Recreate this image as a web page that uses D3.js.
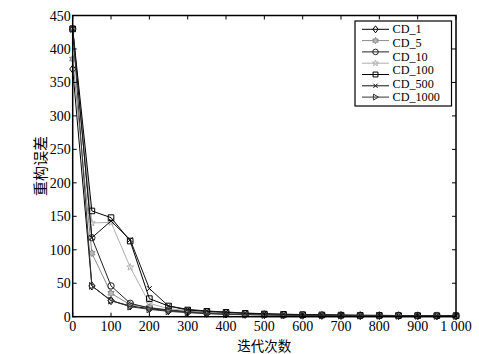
<!DOCTYPE html>
<html><head><meta charset="utf-8">
<script src="https://cdn.jsdelivr.net/npm/d3@7"></script>
<style>
html,body{margin:0;padding:0;background:#fff;}
svg{display:block;}
</style></head>
<body>
<svg id="chart" width="479" height="354"></svg>
<script>
const xValues = [0,50,100,150,200,250,300,350,400,450,500,550,600,650,700,750,800,850,900,950,1000];
const cd1Diamond   = [370,46,24,16,12,9,7,5,4,3.5,3,2.5,2.2,2,1.8,1.6,1.5,1.4,1.3,1.2,1.1];
const cd5Hexagram  = [385,95,35,18,14,10,8,6,5,4,3.5,3,2.6,2.3,2,1.8,1.7,1.6,1.5,1.4,1.3];
const cd10Circle   = [430,118,46,20,13,10,8,6.5,5,4,3.5,3,2.6,2.3,2,1.8,1.7,1.6,1.5,1.4,1.3];
const starSeries   = [430,140,141,74,20,12,9,7,5.5,4.5,3.8,3.2,2.8,2.4,2.1,1.9,1.8,1.6,1.5,1.4,1.3];
const squareSeries = [430,158,148,113,27,16,10,8,6.5,5,4,3.5,3,2.6,2.3,2,1.9,1.7,1.6,1.5,1.4];
const crossSeries  = [430,118,143,115,42,16,11,8.5,7,5.5,4.5,3.8,3.2,2.8,2.4,2.1,2,1.8,1.6,1.5,1.4];
const triSeries    = [430,46,24,15,11,8,6,4.5,3.5,3,2.5,2.2,2,1.8,1.6,1.5,1.4,1.3,1.2,1.1,1];
const legendLabels = ["CD_1","CD_5","CD_10","CD_100","CD_500","CD_1000"];
const xTicks = [0,100,200,300,400,500,600,700,800,900,1000];
const xTickLabels = ["0","100","200","300","400","500","600","700","800","900","1 000"];
const yTicks = [0,50,100,150,200,250,300,350,400,450];
const xTitle = "迭代次数";
const yTitle = "重构误差";

const series = [
  {values: cd1Diamond, marker: "diamond", color: "#000"},
  {values: cd5Hexagram, marker: "hexagram", color: "#8a8a8a"},
  {values: cd10Circle, marker: "circle", color: "#222"},
  {values: starSeries, marker: "star", color: "#b0b0b0"},
  {values: squareSeries, marker: "square", color: "#000"},
  {values: crossSeries, marker: "x", color: "#111"},
  {values: triSeries, marker: "triangle", color: "#333"}
];

const svg = d3.select("#chart");
const L = 72.7, R = 456, T = 15.5, B = 316.7;
const x = d3.scaleLinear().domain([0,1000]).range([L,R]);
const y = d3.scaleLinear().domain([0,450]).range([B,T]);
const serif = "'Liberation Serif','Times New Roman',serif";
const cjk = "'Noto Sans CJK SC','Noto Sans CJK JP',sans-serif";

function markerPath(type, s){
  switch(type){
    case "diamond": return `M0,${-s}L${s*0.75},0L0,${s}L${-s*0.75},0Z`;
    case "circle": { const r=s*0.8; return `M${r},0A${r},${r} 0 1,1 ${-r},0A${r},${r} 0 1,1 ${r},0Z`; }
    case "square": { const h=s*0.7; return `M${-h},${-h}H${h}V${h}H${-h}Z`; }
    case "x": { const h=s*0.6; return `M${-h},${-h}L${h},${h}M${-h},${h}L${h},${-h}`; }
    case "triangle": { const h=s*0.85; return `M${-h*0.7},${-h}L${h},0L${-h*0.7},${h}Z`; }
    case "star": case "hexagram": {
      const n = type==="star"?5:6, ro=s*0.9, ri=type==="star"?s*0.38:s*0.5;
      let p=""; for(let i=0;i<2*n;i++){const r=i%2?ri:ro;const a=-Math.PI/2+i*Math.PI/n;p+=(i?"L":"M")+(r*Math.cos(a)).toFixed(2)+","+(r*Math.sin(a)).toFixed(2);} return p+"Z";
    }
  }
}

// series
const line = d3.line().x((d,i)=>x(xValues[i])).y(d=>y(d));
const plot = svg.append("g");
series.forEach(s=>{
  plot.append("path").attr("d", line(s.values)).attr("fill","none")
    .attr("stroke", s.color).attr("stroke-width", 1);
  plot.selectAll(null).data(s.values).enter().append("path")
    .attr("transform",(d,i)=>`translate(${x(xValues[i])},${y(d)})`)
    .attr("d", markerPath(s.marker, 4))
    .attr("fill", s.marker==="hexagram" ? "#bbb" : "none")
    .attr("stroke", s.color).attr("stroke-width", 1);
});

// frame
svg.append("rect").attr("x",L).attr("y",T).attr("width",R-L).attr("height",B-T)
  .attr("fill","none").attr("stroke","#000").attr("stroke-width",1.5);

// ticks
const tl = 4;
const axisG = svg.append("g").attr("stroke","#000").attr("stroke-width",1);
xTicks.forEach(v=>{
  axisG.append("line").attr("x1",x(v)).attr("x2",x(v)).attr("y1",B).attr("y2",B-tl);
  axisG.append("line").attr("x1",x(v)).attr("x2",x(v)).attr("y1",T).attr("y2",T+tl);
});
yTicks.forEach(v=>{
  axisG.append("line").attr("x1",L).attr("x2",L+tl).attr("y1",y(v)).attr("y2",y(v));
  axisG.append("line").attr("x1",R).attr("x2",R-tl).attr("y1",y(v)).attr("y2",y(v));
});
svg.selectAll(".xl").data(xTicks).enter().append("text")
  .attr("x",d=>x(d)).attr("y",B+14.5).attr("text-anchor","middle")
  .attr("font-family",serif).attr("font-size",14).attr("fill","#000")
  .text((d,i)=>xTickLabels[i]);
svg.selectAll(".yl").data(yTicks).enter().append("text")
  .attr("x",L-2).attr("y",d=>y(d)+5).attr("text-anchor","end")
  .attr("font-family",serif).attr("font-size",14).attr("fill","#000")
  .text(d=>d);

// titles
svg.append("text").attr("x",(L+R)/2).attr("y",350.5).attr("text-anchor","middle")
  .attr("font-family",cjk).attr("font-size",13.5).attr("fill","#000").text(xTitle);
svg.append("text").attr("transform",`translate(46,${(T+B)/2}) rotate(-90)`)
  .attr("text-anchor","middle").attr("font-family",cjk).attr("font-size",15).attr("fill","#000").text(yTitle);

// legend
const lg = svg.append("g");
lg.append("rect").attr("x",355).attr("y",21).attr("width",96.5).attr("height",85)
  .attr("fill","#fff").attr("stroke","#000").attr("stroke-width",1.2);
series.forEach((s,i)=>{
  const yy = 29.3 + i*11.3;
  lg.append("line").attr("x1",362).attr("x2",389).attr("y1",yy).attr("y2",yy)
    .attr("stroke",s.color).attr("stroke-width",1);
  lg.append("path").attr("transform",`translate(375.5,${yy})`).attr("d",markerPath(s.marker,3.5))
    .attr("fill", s.marker==="hexagram" ? "#bbb" : "none").attr("stroke",s.color).attr("stroke-width",1);
});
legendLabels.forEach((t,j)=>{
  lg.append("text").attr("x",392.5).attr("y",29 + j*13.6 + 4.3)
    .attr("font-family",serif).attr("font-size",12.2).attr("fill","#000").text(t);
});
</script>
</body></html>
